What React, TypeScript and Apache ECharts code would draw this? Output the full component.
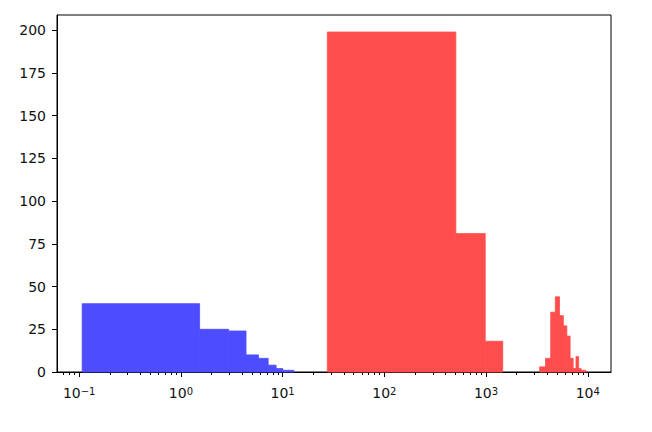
import React, { useEffect, useRef } from "react";
import * as echarts from "echarts";

// Blue histogram: bin edges and counts
const blueEdges = [0.107, 1.527, 2.947, 4.367, 5.787, 7.207, 8.627, 10.047, 11.467, 12.887];
const blueCounts = [40, 25, 24, 10, 8, 4, 2, 1, 1];

// Red histogram: bin edges and counts
const redEdges = [
  27.5, 504.5, 981.5, 1458.5, 1935.5, 2412.5, 2889.5, 3366.5, 3843.5, 4320.5, 4797.5, 5274.5,
  5751.5, 6228.5, 6705.5, 7182.5, 7659.5, 8136.5, 8613.5, 9090.5, 9567.5,
];
const redCounts = [199, 81, 18, 0, 0, 0, 0, 3, 8, 35, 44, 33, 27, 21, 8, 2, 9, 2, 1, 1];

// Tick values
const xMajorTicks = [0.1, 1, 10, 100, 1000, 10000];
const yTicks = [0, 25, 50, 75, 100, 125, 150, 175, 200];

const blueColor = "#4d4dff";
const redColor = "#ff4d4d";

function toBins(edges: number[], counts: number[]) {
  return counts.map((c, i) => [edges[i], edges[i + 1], c]);
}

export default function App() {
  const ref = useRef<HTMLDivElement>(null);

  useEffect(() => {
    document.body.style.margin = "0";
    if (!ref.current) return;
    const chart = echarts.init(ref.current, null, { renderer: "svg" });

    const lo = Math.log10(Math.min(blueEdges[0], redEdges[0]));
    const hi = Math.log10(Math.max(blueEdges[blueEdges.length - 1], redEdges[redEdges.length - 1]));
    const span = hi - lo;
    const xMin = Math.pow(10, lo - 0.05 * span);
    const xMax = Math.pow(10, hi + 0.05 * span);
    const yMax = Math.max(...blueCounts, ...redCounts) * 1.05;

    const minorTicks: number[] = [];
    for (let e = -2; e <= 4; e++) {
      for (let m = 2; m <= 9; m++) {
        const v = m * Math.pow(10, e);
        if (v > xMin && v < xMax) minorTicks.push(v);
      }
    }

    const renderBar = (color: string) => (params: any, api: any) => {
      const x0 = api.value(0);
      const x1 = api.value(1);
      const h = api.value(2);
      if (!h) return null;
      const p0 = api.coord([x0, h]);
      const p1 = api.coord([x1, 0]);
      return {
        type: "rect",
        shape: { x: p0[0], y: p0[1], width: p1[0] - p0[0], height: p1[1] - p0[1] },
        style: { fill: color, stroke: color, lineWidth: 0.8 },
      };
    };

    const font = "DejaVu Sans";
    const supStr = (e: number) => (e < 0 ? "\u2212" + -e : String(e));

    chart.setOption({
      animation: false,
      grid: {
        left: 57,
        right: 41,
        top: 15,
        bottom: 60,
        show: true,
        borderColor: "#000",
        borderWidth: 1,
        backgroundColor: "transparent",
      },
      xAxis: [
        {
          type: "log",
          logBase: 10,
          min: xMin,
          max: xMax,
          axisLine: { show: true, lineStyle: { color: "#000", width: 1 } },
          axisTick: {
            show: true,
            customValues: xMajorTicks,
            length: 5,
            lineStyle: { color: "#000", width: 1 },
          },
          axisLabel: {
            show: true,
            customValues: xMajorTicks,
            margin: 14,
            color: "#111",
            fontFamily: font,
            formatter: (v: number) => {
              const e = Math.round(Math.log10(v));
              return "{b|10}{s|" + supStr(e) + "}";
            },
            rich: {
              b: { fontSize: 14, fontFamily: font, color: "#111", lineHeight: 14, verticalAlign: "bottom" },
              s: {
                fontSize: 10,
                fontFamily: font,
                color: "#111",
                lineHeight: 10,
                verticalAlign: "top",
                padding: [0, 0, 6, 0],
              },
            },
          },
          splitLine: { show: false },
          minorTick: { show: false },
        },
        {
          type: "log",
          logBase: 10,
          min: xMin,
          max: xMax,
          position: "bottom",
          axisLine: { show: false },
          axisTick: {
            show: true,
            customValues: minorTicks,
            length: 3,
            lineStyle: { color: "#000", width: 1 },
          },
          axisLabel: { show: false },
          splitLine: { show: false },
        },
      ],
      yAxis: {
        type: "value",
        min: 0,
        max: yMax,
        axisLine: { show: true, lineStyle: { color: "#000", width: 1 } },
        axisTick: {
          show: true,
          customValues: yTicks,
          length: 5,
          lineStyle: { color: "#000", width: 1 },
        },
        axisLabel: {
          show: true,
          customValues: yTicks,
          margin: 11,
          fontSize: 14,
          fontFamily: font,
          color: "#111",
        },
        splitLine: { show: false },
      },
      series: [
        {
          type: "custom",
          name: "blue",
          xAxisIndex: 0,
          yAxisIndex: 0,
          renderItem: renderBar(blueColor),
          encode: { x: [0, 1], y: 2 },
          data: toBins(blueEdges, blueCounts),
          z: 2,
        },
        {
          type: "custom",
          name: "red",
          xAxisIndex: 0,
          yAxisIndex: 0,
          renderItem: renderBar(redColor),
          encode: { x: [0, 1], y: 2 },
          data: toBins(redEdges, redCounts),
          z: 2,
        },
      ],
    });

    return () => chart.dispose();
  }, []);

  return <div ref={ref} style={{ width: 652, height: 432 }} />;
}
